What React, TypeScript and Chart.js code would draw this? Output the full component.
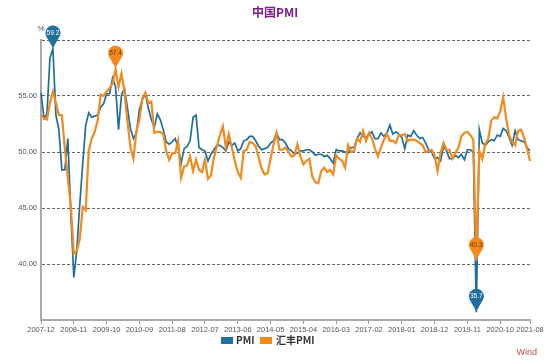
import React, { useEffect, useRef } from 'react';
import { Chart, registerables } from 'chart.js';

Chart.register(...registerables);

// Monthly categories 2007-12 .. 2021-08
const START_YEAR = 2007;
const START_MONTH = 12;
const MONTH_COUNT = 165;
const categories: string[] = [];
for (let i = 0; i < MONTH_COUNT; i++) {
  const m = START_MONTH - 1 + i;
  const y = START_YEAR + Math.floor(m / 12);
  const mm = (m % 12) + 1;
  categories.push(`${y}-${String(mm).padStart(2, '0')}`);
}

// Official manufacturing PMI
const pmi: number[] = [
  55.3,
  53.0, 53.4, 58.4, 59.2, 53.3, 52.0, 48.4, 48.4, 51.2, 44.6, 38.8, 41.2,
  45.3, 49.0, 52.4, 53.5, 53.1, 53.2, 53.3, 54.0, 54.3, 55.2, 55.2, 56.6,
  55.8, 52.0, 55.1, 55.7, 53.9, 52.1, 51.2, 51.7, 53.8, 54.7, 55.2, 53.9,
  52.9, 52.2, 53.4, 52.9, 52.0, 50.9, 50.7, 50.9, 51.2, 50.4, 49.0, 50.3,
  50.5, 51.0, 53.1, 53.3, 50.4, 50.2, 50.1, 49.2, 49.8, 50.2, 50.6, 50.6,
  50.4, 50.1, 50.9, 50.6, 50.8, 50.1, 50.3, 51.0, 51.1, 51.4, 51.4, 51.0,
  50.5, 50.2, 50.3, 50.4, 50.8, 51.0, 51.7, 51.1, 51.1, 50.8, 50.3, 50.1,
  49.8, 49.9, 50.1, 50.1, 50.2, 50.2, 50.0, 49.7, 49.8, 49.8, 49.6, 49.7,
  49.4, 49.0, 50.2, 50.1, 50.1, 50.0, 49.9, 50.4, 50.4, 51.2, 51.7, 51.4,
  51.3, 51.6, 51.8, 51.2, 51.2, 51.7, 51.4, 51.7, 52.4, 51.6, 51.8, 51.6,
  51.3, 50.3, 51.5, 51.4, 51.9, 51.5, 51.2, 51.3, 50.8, 50.2, 50.0, 49.4,
  49.5, 49.2, 50.5, 50.1, 49.4, 49.4, 49.7, 49.5, 49.8, 49.3, 50.2, 50.2,
  50.0, 35.7, 52.0, 50.8, 50.6, 50.9, 51.1, 51.0, 51.5, 51.4, 52.1, 51.9,
  51.3, 50.6, 51.9, 51.1, 51.0, 50.9, 50.4, 50.1,
];

// HSBC (Caixin) manufacturing PMI
const hsbcPmi: number[] = [
  53.3,
  53.0, 52.9, 54.4, 55.4, 54.4, 53.3, 53.3, 50.3, 47.7, 45.2, 40.9, 41.2,
  42.2, 45.1, 44.8, 50.1, 51.2, 51.8, 52.8, 55.1, 55.0, 55.4, 55.7, 56.1,
  57.4, 55.8, 57.0, 55.4, 52.7, 50.4, 49.4, 51.9, 52.9, 54.8, 55.3, 54.4,
  54.5, 51.7, 51.8, 51.8, 51.6, 50.1, 49.3, 49.9, 49.9, 51.0, 47.7, 48.7,
  48.8, 49.6, 48.3, 49.3, 48.4, 48.2, 49.3, 47.6, 47.9, 49.5, 50.5, 51.5,
  52.3, 50.4, 51.6, 50.4, 49.2, 48.2, 47.7, 50.1, 50.2, 50.9, 50.8, 50.5,
  49.5, 48.5, 48.0, 48.1, 49.4, 50.7, 51.7, 50.2, 50.2, 50.4, 50.0, 49.6,
  49.7, 50.7, 49.6, 48.9, 49.2, 49.4, 47.8, 47.3, 47.2, 48.3, 48.6, 48.2,
  48.4, 48.0, 49.7, 49.4, 49.2, 48.6, 50.6, 50.0, 50.1, 51.2, 50.9, 51.9,
  51.0, 51.7, 51.2, 50.3, 49.6, 50.4, 51.1, 51.6, 51.0, 51.0, 50.8, 51.5,
  51.5, 51.6, 51.0, 51.1, 51.1, 51.0, 50.8, 50.6, 50.0, 50.1, 50.2, 49.7,
  48.3, 49.9, 50.8, 50.2, 50.2, 49.4, 49.9, 50.4, 51.4, 51.7, 51.8, 51.5,
  51.1, 40.3, 50.1, 49.4, 50.7, 51.2, 52.8, 53.1, 53.0, 53.6, 54.9, 53.0,
  51.5, 50.9, 50.6, 51.9, 52.0, 51.3, 50.3, 49.2,
];

const xTickLabels: string[] = [
  '2007-12', '2008-11', '2009-10', '2010-09', '2011-08', '2012-07', '2013-06', '2014-05',
  '2015-04', '2016-03', '2017-02', '2018-01', '2018-12', '2019-11', '2020-10', '2021-08',
];
const yTickValues: number[] = [40, 45, 50, 55];

const BLUE = '#1f6f9c';
const ORANGE = '#f28a1e';
const FONT = '"Liberation Sans", Arial, sans-serif';
const CJK = '"Noto Sans CJK SC", "Noto Sans", sans-serif';

function extremes(data: number[]) {
  let maxI = 0;
  let minI = 0;
  data.forEach((v, i) => {
    if (v > data[maxI]) maxI = i;
    if (v < data[minI]) minI = i;
  });
  return [maxI, minI];
}

const decorPlugin = {
  id: 'decor',
  afterDraw(chart: any) {
    const ctx: CanvasRenderingContext2D = chart.ctx;
    const xs = chart.scales.x;
    const ys = chart.scales.y;
    ctx.save();

    // title
    ctx.fillStyle = '#7b1f86';
    ctx.font = `bold 12px ${CJK}`;
    ctx.textAlign = 'center';
    ctx.textBaseline = 'middle';
    ctx.fillText('中国PMI', 275, 12);

    // unit
    ctx.fillStyle = '#555';
    ctx.font = `8px ${FONT}`;
    ctx.textAlign = 'center';
    ctx.fillText('%', 41, 29);

    // pins
    const pins: { data: number[]; color: string; text: string }[] = [
      { data: pmi, color: BLUE, text: '#ffffff' },
      { data: hsbcPmi, color: ORANGE, text: '#6b3a0c' },
    ];
    pins.forEach((p) => {
      extremes(p.data).forEach((idx) => {
        const px = xs.getPixelForValue(idx);
        const py = ys.getPixelForValue(p.data[idx]);
        const r = 7.5;
        const cy = py - 16;
        const tipY = py - 1;
        const d = tipY - cy;
        const phi = Math.acos(r / d);
        ctx.beginPath();
        ctx.moveTo(px, tipY);
        ctx.lineTo(px + r * Math.cos(Math.PI / 2 + phi), cy + r * Math.sin(Math.PI / 2 + phi));
        ctx.arc(px, cy, r, Math.PI / 2 + phi, Math.PI / 2 - phi + Math.PI * 2, false);
        ctx.closePath();
        ctx.fillStyle = p.color;
        ctx.fill();
        ctx.fillStyle = p.text;
        ctx.font = `6.5px ${FONT}`;
        ctx.textAlign = 'center';
        ctx.textBaseline = 'middle';
        ctx.fillText(p.data[idx].toFixed(1), px, cy + 0.5);
      });
    });

    // legend
    ctx.textAlign = 'left';
    ctx.textBaseline = 'middle';
    ctx.font = `bold 10px ${CJK}`;
    ctx.fillStyle = BLUE;
    ctx.fillRect(221, 337, 12, 7);
    ctx.fillStyle = '#333';
    ctx.fillText('PMI', 236, 340.5);
    ctx.fillStyle = ORANGE;
    ctx.fillRect(260, 337, 12, 7);
    ctx.fillStyle = '#333';
    ctx.fillText('汇丰PMI', 276, 340.5);

    // source
    ctx.fillStyle = '#c0504d';
    ctx.font = `9px ${FONT}`;
    ctx.textAlign = 'right';
    ctx.fillText('Wind', 537, 353);

    ctx.restore();
  },
};

export default function App() {
  const ref = useRef<HTMLCanvasElement>(null);

  useEffect(() => {
    if (!ref.current) return;
    const chart = new Chart(ref.current, {
      type: 'line',
      data: {
        labels: categories,
        datasets: [
          {
            label: 'PMI',
            data: pmi,
            borderColor: BLUE,
            backgroundColor: BLUE,
            borderWidth: 1.7,
            pointRadius: 0,
            tension: 0,
            order: 1,
          },
          {
            label: '汇丰PMI',
            data: hsbcPmi,
            borderColor: ORANGE,
            backgroundColor: ORANGE,
            borderWidth: 2.2,
            pointRadius: 0,
            tension: 0,
            order: 0,
          },
        ],
      },
      options: {
        animation: false,
        responsive: false,
        maintainAspectRatio: false,
        layout: { padding: { left: 0, right: 20, top: 40, bottom: 0 } },
        plugins: {
          legend: { display: false },
          title: { display: false },
          tooltip: { enabled: false },
        },
        scales: {
          x: {
            type: 'category',
            offset: false,
            ticks: {
              autoSkip: false,
              maxRotation: 0,
              minRotation: 0,
              padding: 1,
              color: '#555',
              font: { family: FONT, size: 7.5 },
              callback: (_v: any, i: number) => (xTickLabels.includes(categories[i]) ? categories[i] : null),
            },
            grid: { drawOnChartArea: false, drawTicks: true, tickLength: 4, color: '#999' },
            border: { color: '#aaa', width: 2 },
            afterFit: (s: any) => {
              s.height = 43;
            },
          },
          y: {
            min: 35,
            max: 60,
            ticks: {
              stepSize: 5,
              padding: 4,
              color: '#555',
              font: { family: FONT, size: 7.5 },
              callback: (v: any) => (yTickValues.includes(Number(v)) ? Number(v).toFixed(2) : ''),
            },
            grid: {
              drawTicks: false,
              lineWidth: 1,
              color: (c: any) => (c.tick && c.tick.value === 35 ? 'rgba(0,0,0,0)' : '#666'),
            },
            border: { color: '#aaa', width: 2, dash: [3, 2] },
            afterFit: (s: any) => {
              s.width = 41;
            },
          },
        },
      } as any,
      plugins: [decorPlugin],
    });
    return () => chart.destroy();
  }, []);

  return (
    <div style={{ position: 'absolute', left: 0, top: 0, width: 550, height: 363, background: '#fff' }}>
      <canvas ref={ref} width={550} height={363} style={{ display: 'block', width: 550, height: 363 }} />
    </div>
  );
}
